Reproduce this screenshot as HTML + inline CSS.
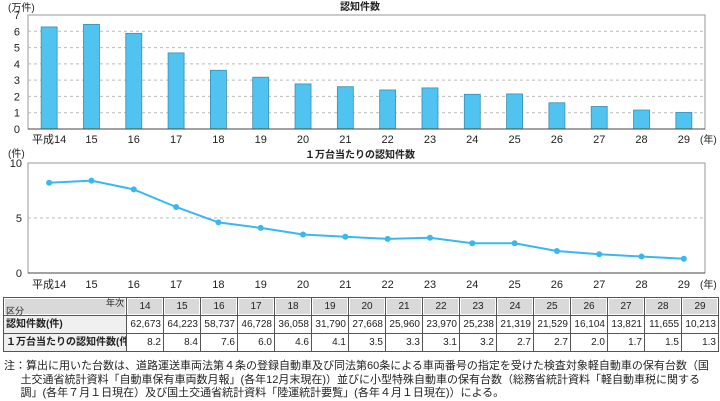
<!DOCTYPE html>
<html><head><meta charset="utf-8"><style>
body{margin:0;width:720px;height:401px;background:#fff;font-family:"Liberation Sans","Noto Sans CJK JP",sans-serif;overflow:hidden;position:relative}
svg{position:absolute;left:0;top:0}
text{font-family:"Liberation Sans","Noto Sans CJK JP",sans-serif;fill:#222}
table{position:absolute;left:3px;top:297px;border-collapse:collapse;table-layout:fixed;width:715px;font-size:10px;color:#222}
td{border:1px solid #555;height:17px;padding:0 2px;text-align:right;white-space:nowrap;overflow:hidden;line-height:17px}
td.h{background:#d9d9d9;text-align:center;box-shadow:inset 0 0 0 1px #fff}
td.l{text-align:left;background:#f0f0f0;font-weight:bold}
.note{position:absolute;left:4px;top:360px;font-size:11px;line-height:13.5px;color:#222;width:714px;white-space:nowrap}
</style></head><body>
<svg width="720" height="300">
<g id="bar"></g>
<g id="line"></g>
</svg>
<table>
<colgroup><col style="width:123px"><col span="16" style="width:37px"></colgroup>
<tr><td class="h" style="text-align:left;font-size:9px;line-height:8px"><div style="text-align:right">年次</div><div>区分</div></td><td class="h">14</td><td class="h">15</td><td class="h">16</td><td class="h">17</td><td class="h">18</td><td class="h">19</td><td class="h">20</td><td class="h">21</td><td class="h">22</td><td class="h">23</td><td class="h">24</td><td class="h">25</td><td class="h">26</td><td class="h">27</td><td class="h">28</td><td class="h">29</td></tr>
<tr><td class="l">認知件数(件)</td><td>62,673</td><td>64,223</td><td>58,737</td><td>46,728</td><td>36,058</td><td>31,790</td><td>27,668</td><td>25,960</td><td>23,970</td><td>25,238</td><td>21,319</td><td>21,529</td><td>16,104</td><td>13,821</td><td>11,655</td><td>10,213</td></tr>
<tr><td class="l">１万台当たりの認知件数(件)</td><td>8.2</td><td>8.4</td><td>7.6</td><td>6.0</td><td>4.6</td><td>4.1</td><td>3.5</td><td>3.3</td><td>3.1</td><td>3.2</td><td>2.7</td><td>2.7</td><td>2.0</td><td>1.7</td><td>1.5</td><td>1.3</td></tr>
</table>
<div class="note">注：算出に用いた台数は、道路運送車両法第４条の登録自動車及び同法第60条による車両番号の指定を受けた検査対象軽自動車の保有台数（国<br>&emsp;&ensp;土交通省統計資料「自動車保有車両数月報」(各年12月末現在)）並びに小型特殊自動車の保有台数（総務省統計資料「軽自動車税に関する<br>&emsp;&ensp;調」(各年７月１日現在）及び国土交通省統計資料「陸運統計要覧」(各年４月１日現在)）による。</div>
<script>
const years=["14","15","16","17","18","19","20","21","22","23","24","25","26","27","28","29"];
const counts=[6.2673,6.4223,5.8737,4.6728,3.6058,3.1790,2.7668,2.5960,2.3970,2.5238,2.1319,2.1529,1.6104,1.3821,1.1655,1.0213];
const rates=[8.2,8.4,7.6,6.0,4.6,4.1,3.5,3.3,3.1,3.2,2.7,2.7,2.0,1.7,1.5,1.3];
const barTicks=[0,1,2,3,4,5,6,7];
const lineTicks=[0,5,10];
const NS="http://www.w3.org/2000/svg";
function mk(p,t,a){const e=document.createElementNS(NS,t);for(const k in a)e.setAttribute(k,a[k]);p.appendChild(e);return e;}
const L=28,R=705,n=years.length,step=(R-L)/n;
const xc=i=>L+step*(i+0.5);
const bg=document.getElementById('bar');
const by=v=>129-v*(129-15)/7;
mk(bg,'rect',{x:L,y:15,width:R-L,height:114,fill:'none',stroke:'#999'});
barTicks.forEach(t=>{if(t>0&&t<7)mk(bg,'line',{x1:L,x2:R,y1:by(t),y2:by(t),stroke:'#bbb','stroke-dasharray':'3,3'});
const tx=mk(bg,'text',{x:20,y:by(t)+4,'font-size':11,'text-anchor':'end'});tx.textContent=t;
});
counts.forEach((v,i)=>{const r=mk(bg,'rect',{x:xc(i)-8,y:by(v),width:16,height:by(0)-by(v),fill:'#50c3f0',stroke:'#3a8fb0','stroke-width':0.8});

const t=mk(bg,'text',{x:xc(i),y:143,'font-size':11,'text-anchor':'middle'});t.textContent=(i==0?'平成':'')+years[i];
});
mk(bg,'line',{x1:L,x2:R,y1:129,y2:129,stroke:'#444'});
let t1=mk(bg,'text',{x:360,y:10,'font-size':10,'font-weight':'bold','text-anchor':'middle'});t1.textContent='認知件数';

let u1=mk(bg,'text',{x:8,y:11,'font-size':10});u1.textContent='(万件)';

let yr1=mk(bg,'text',{x:700,y:143,'font-size':10});yr1.textContent='(年)';
const lg=document.getElementById('line');
const ly=v=>273-v*(273-163)/10;
mk(lg,'rect',{x:L,y:163,width:R-L,height:110,fill:'none',stroke:'#999'});
lineTicks.forEach(t=>{if(t==5)mk(lg,'line',{x1:L,x2:R,y1:ly(t),y2:ly(t),stroke:'#bbb','stroke-dasharray':'3,3'});
const tx=mk(lg,'text',{x:22,y:ly(t)+4,'font-size':11,'text-anchor':'end'});tx.textContent=t;
});
mk(lg,'line',{x1:L,x2:R,y1:273,y2:273,stroke:'#444'});
const pl=mk(lg,'polyline',{points:rates.map((v,i)=>xc(i)+','+ly(v)).join(' '),fill:'none',stroke:'#3ab8ee','stroke-width':2});

rates.forEach((v,i)=>{const c=mk(lg,'circle',{cx:xc(i),cy:ly(v),r:3,fill:'#3ab8ee'});

const t=mk(lg,'text',{x:xc(i),y:288,'font-size':11,'text-anchor':'middle'});t.textContent=(i==0?'平成':'')+years[i];
});
let t2=mk(lg,'text',{x:360,y:158,'font-size':10,'font-weight':'bold','text-anchor':'middle'});t2.textContent='１万台当たりの認知件数';

let u2=mk(lg,'text',{x:8,y:157,'font-size':10});u2.textContent='(件)';

let yr2=mk(lg,'text',{x:700,y:288,'font-size':10});yr2.textContent='(年)';
</script>
</body></html>
